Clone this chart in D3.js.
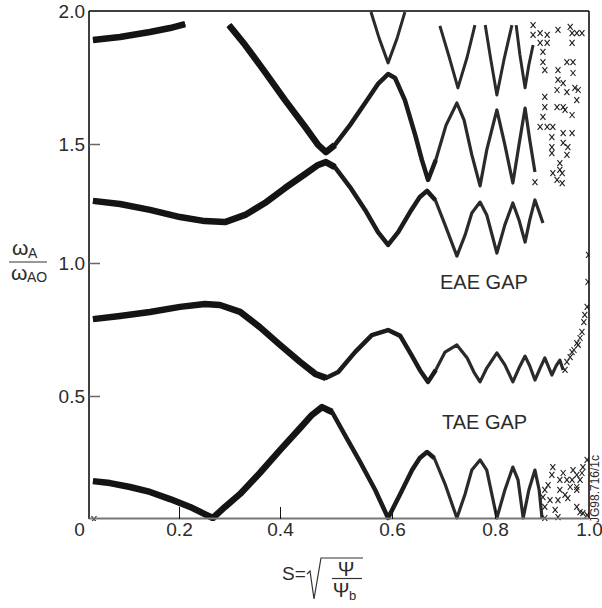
<!DOCTYPE html>
<html>
<head>
<meta charset="utf-8">
<script src="https://cdn.jsdelivr.net/npm/d3@7"></script>
<style>
  html, body { margin: 0; padding: 0; background: #fff; }
  svg { display: block; }
  text { font-family: "Liberation Sans", Arial, sans-serif; fill: #2b2b2b; }
</style>
</head>
<body>
<svg id="chart" width="602" height="608"></svg>
<script>
// ---------- data ----------
const sTicks = [0, 0.2, 0.4, 0.6, 0.8, 1.0];
const sTickLabels = ["0", "0.2", "0.4", "0.6", "0.8", "1.0"];
const wTicks = [0, 0.5, 1.0, 1.5, 2.0];
const wTickLabels = ["", "0.5", "1.0", "1.5", "2.0"];

// continuum branches [S, omega/omegaA0]
const branchTopLeft = [[0.028,1.891],[0.082,1.902],[0.142,1.921],[0.182,1.936],[0.212,1.951]];

const branchUpper = [[0.299,1.947],[0.331,1.872],[0.370,1.771],[0.409,1.665],[0.445,1.564],[0.468,1.496],
  [0.482,1.466],[0.498,1.496],[0.525,1.571],[0.552,1.654],[0.575,1.726],[0.593,1.763],[0.606,1.748],
  [0.625,1.665],[0.645,1.534],[0.658,1.433],[0.670,1.349],[0.685,1.433],[0.705,1.571],[0.726,1.654],
  [0.740,1.590],[0.755,1.454],[0.771,1.324],[0.784,1.475],[0.804,1.628],[0.821,1.496],[0.838,1.336],
  [0.851,1.496],[0.864,1.635],[0.874,1.515],[0.885,1.382]];

const branchEAE = [[0.028,1.261],[0.082,1.248],[0.142,1.223],[0.202,1.193],[0.251,1.176],[0.291,1.172],
  [0.331,1.202],[0.370,1.252],[0.409,1.315],[0.445,1.374],[0.468,1.412],[0.482,1.424],[0.498,1.403],
  [0.525,1.319],[0.552,1.223],[0.575,1.130],[0.593,1.076],[0.612,1.130],[0.635,1.214],[0.654,1.277],
  [0.668,1.303],[0.684,1.265],[0.703,1.160],[0.726,1.029],[0.742,1.118],[0.755,1.210],[0.771,1.256],
  [0.784,1.202],[0.804,1.042],[0.821,1.160],[0.838,1.252],[0.851,1.181],[0.864,1.088],[0.874,1.181],
  [0.885,1.265],[0.894,1.214],[0.902,1.168]];

const branchMid = [[0.028,0.789],[0.082,0.801],[0.142,0.816],[0.202,0.835],[0.251,0.846],[0.281,0.842],
  [0.321,0.816],[0.360,0.759],[0.400,0.692],[0.436,0.628],[0.463,0.583],[0.482,0.568],[0.504,0.590],
  [0.534,0.665],[0.564,0.729],[0.593,0.748],[0.616,0.726],[0.639,0.650],[0.654,0.598],[0.670,0.553],
  [0.685,0.598],[0.703,0.665],[0.726,0.692],[0.746,0.643],[0.759,0.590],[0.771,0.553],[0.784,0.605],
  [0.804,0.662],[0.821,0.617],[0.838,0.553],[0.851,0.605],[0.864,0.650],[0.874,0.613],[0.885,0.560],
  [0.896,0.605],[0.906,0.643],[0.913,0.613],[0.921,0.579],[0.930,0.613],[0.938,0.635],[0.945,0.598]];

const branchLow = [[0.028,0.154],[0.062,0.146],[0.102,0.130],[0.142,0.110],[0.182,0.081],[0.222,0.049],
  [0.251,0.020],[0.267,0.004],[0.291,0.049],[0.321,0.102],[0.360,0.187],[0.400,0.280],[0.436,0.370],
  [0.457,0.423],[0.475,0.455],[0.493,0.435],[0.516,0.341],[0.543,0.232],[0.570,0.118],[0.593,0.004],
  [0.616,0.102],[0.639,0.199],[0.654,0.248],[0.668,0.272],[0.682,0.248],[0.703,0.142],[0.726,0.004],
  [0.742,0.102],[0.755,0.199],[0.771,0.240],[0.784,0.199],[0.804,0.004],[0.821,0.118],[0.838,0.211],
  [0.849,0.159],[0.860,0.004],[0.872,0.118],[0.885,0.199],[0.894,0.118],[0.900,0.004]];

const vee1 = [[0.5625,1.996],[0.577,1.898],[0.593,1.805],[0.610,1.898],[0.625,1.996]];
const vee2 = [[0.693,1.944],[0.711,1.827],[0.728,1.711],[0.746,1.827],[0.761,1.947]];
const vee3 = [[0.781,1.947],[0.792,1.816],[0.804,1.684],[0.819,1.816],[0.836,1.947]];
const vee4 = [[0.845,1.947],[0.853,1.835],[0.864,1.711],[0.872,1.797],[0.881,1.872]];

// scattered single points near the edge
const scatterTop = [[0.881,1.947],[0.881,1.910],[0.896,1.917],[0.911,1.910],[0.896,1.880],[0.911,1.880],
  [0.902,1.846],[0.902,1.808],[0.906,1.778],[0.934,1.929],[0.960,1.940],[0.964,1.917],[0.974,1.917],
  [0.985,1.917],[0.964,1.880],[0.953,1.808],[0.966,1.808],[0.934,1.778],[0.966,1.767],[0.934,1.741],
  [0.945,1.729],[0.970,1.711],[0.977,1.703],[0.974,1.665],[0.932,1.703],[0.953,1.695],[0.906,1.677],
  [0.906,1.639],[0.932,1.639],[0.945,1.639],[0.949,1.628],[0.964,1.609],[0.902,1.602],[0.911,1.564],
  [0.896,1.564],[0.923,1.564],[0.921,1.526],[0.945,1.541],[0.964,1.541],[0.945,1.504],[0.955,1.487],
  [0.953,1.454],[0.921,1.487],[0.921,1.462],[0.938,1.420],[0.938,1.391],[0.923,1.378],[0.943,1.378],
  [0.932,1.349],[0.943,1.336],[0.885,1.340]];
const scatterMid = [[0.949,0.598],[0.953,0.628],[0.960,0.646],[0.964,0.665],[0.968,0.673],[0.974,0.699],
  [0.977,0.692],[0.981,0.718],[0.985,0.741],[0.989,0.778],[0.991,0.805],[0.996,0.835],[0.998,0.929],
  [0.999,1.034]];
const scatterLow = [[0.996,0.240],[0.987,0.211],[0.985,0.187],[0.981,0.159],[0.974,0.179],[0.966,0.199],
  [0.964,0.159],[0.974,0.130],[0.953,0.159],[0.938,0.159],[0.945,0.187],[0.923,0.211],[0.921,0.179],
  [0.906,0.118],[0.938,0.118],[0.960,0.130],[0.974,0.118],[0.934,0.077],[0.955,0.085],[0.974,0.049],
  [0.981,0.028],[0.987,0.024],[0.996,0.016],[0.934,0.008],[0.906,0.004],[0.902,0.089],[0.906,0.049],
  [0.917,0.077],[0.913,0.138],[0.928,0.037],[0.949,0.098],[0.030,0.0]];

// ---------- drawing ----------
const svg = d3.select("#chart");
const L = 89, R = 589, T = 11, B = 519;

const x = d3.scaleLinear().domain(sTicks).range([79, 179, 280, 392, 495, 589]);
const y = d3.scaleLinear().domain(wTicks).range([519, 396, 263, 144, 11]);

svg.append("defs").append("clipPath").attr("id", "clip")
  .append("rect").attr("x", L).attr("y", T - 2).attr("width", R - L).attr("height", B - T + 4);

const plot = svg.append("g").attr("clip-path", "url(#clip)");
const line = d3.line().x(d => x(d[0])).y(d => y(d[1]));

const branches = [branchTopLeft, branchUpper, branchEAE, branchMid, branchLow];
branches.forEach(b => {
  plot.append("path").attr("d", line(b)).attr("fill", "none")
    .attr("stroke", "#2a2a2a").attr("stroke-width", 3.2).attr("stroke-linejoin", "round");
  const mid = b.filter(d => d[0] <= 0.69);
  if (mid.length > 1)
    plot.append("path").attr("d", line(mid)).attr("fill", "none")
      .attr("stroke", "#1c1c1c").attr("stroke-width", 4.5).attr("stroke-linejoin", "round");
  const left = b.filter(d => d[0] <= 0.5);
  if (left.length > 1)
    plot.append("path").attr("d", line(left)).attr("fill", "none")
      .attr("stroke", "#141414").attr("stroke-width", 6.5).attr("stroke-linejoin", "round");
});
[vee1, vee2, vee3, vee4].forEach(v => {
  plot.append("path").attr("d", line(v)).attr("fill", "none")
    .attr("stroke", "#2a2a2a").attr("stroke-width", 3).attr("stroke-linejoin", "round");
});

const cross = "M-2.5,-3L2.5,3M2.5,-3L-2.5,3";
[scatterTop, scatterMid, scatterLow].forEach(set => {
  plot.selectAll(null).data(set).enter().append("path")
    .attr("transform", d => `translate(${x(d[0])},${y(d[1])})`)
    .attr("d", cross).attr("stroke", "#222").attr("stroke-width", 1.1).attr("fill", "none");
});

// frame
svg.append("line").attr("x1", L).attr("x2", R).attr("y1", T).attr("y2", T).attr("stroke", "#000").attr("stroke-width", 1.5);
svg.append("line").attr("x1", R).attr("x2", R).attr("y1", T).attr("y2", B).attr("stroke", "#000").attr("stroke-width", 1.5);
svg.append("line").attr("x1", L).attr("x2", L).attr("y1", T).attr("y2", B).attr("stroke", "#000").attr("stroke-width", 1.5);
svg.append("line").attr("x1", L).attr("x2", R).attr("y1", B - 0.5).attr("y2", B - 0.5).attr("stroke", "#777").attr("stroke-width", 2);

// tick marks
const xTickAxis = d3.axisBottom(x).tickValues(sTicks.slice(1, 5)).tickSize(-12).tickFormat("");
const gxt = svg.append("g").attr("transform", `translate(0,${B})`).call(xTickAxis);
gxt.select(".domain").remove();
gxt.selectAll("line").attr("stroke", "#111").attr("stroke-width", 1);

const yTickAxis = d3.axisLeft(y).tickValues(wTicks.slice(1, 4)).tickSize(-11).tickFormat("");
const gyt = svg.append("g").attr("transform", `translate(${L},0)`).call(yTickAxis);
gyt.select(".domain").remove();
gyt.selectAll("line").attr("stroke", "#666").attr("stroke-width", 1.5);

// tick labels
const xLab = d3.axisBottom(x).tickValues(sTicks).tickSize(0).tickPadding(4)
  .tickFormat((d, i) => sTickLabels[i]);
const gxl = svg.append("g").attr("transform", `translate(0,${B})`).call(xLab);
gxl.select(".domain").remove();
gxl.selectAll("text").attr("font-size", 19).attr("font-family", "Liberation Sans, Arial, sans-serif").attr("fill", "#2b2b2b");

const yLab = d3.axisLeft(y).tickValues(wTicks.slice(1)).tickSize(0).tickPadding(4)
  .tickFormat((d, i) => wTickLabels[i + 1]);
const gyl = svg.append("g").attr("transform", `translate(${L},0)`).call(yLab);
gyl.select(".domain").remove();
gyl.selectAll("text").attr("font-size", 19).attr("font-family", "Liberation Sans, Arial, sans-serif").attr("fill", "#2b2b2b");

// annotations
svg.append("text").attr("x", 440).attr("y", 289).attr("font-size", 20).text("EAE GAP");
svg.append("text").attr("x", 442).attr("y", 429).attr("font-size", 20).text("TAE GAP");
svg.append("text").attr("transform", "translate(599,489) rotate(-90)").attr("text-anchor", "middle")
  .attr("font-size", 12).attr("fill", "#555").text("JG98.716/1c");

// y title: omega_A / omega_AO
const yt = svg.append("g");
yt.append("text").attr("x", 12).attr("y", 255).attr("font-size", 21).text("ω");
yt.append("text").attr("x", 28).attr("y", 258).attr("font-size", 14).text("A");
yt.append("line").attr("x1", 9).attr("x2", 47).attr("y1", 262).attr("y2", 262).attr("stroke", "#333").attr("stroke-width", 1.2);
yt.append("text").attr("x", 11).attr("y", 280).attr("font-size", 21).text("ω");
yt.append("text").attr("x", 27).attr("y", 282).attr("font-size", 14).text("AO");

// x title: S = sqrt(Psi / Psi_b)
const xt = svg.append("g");
xt.append("text").attr("x", 282).attr("y", 580).attr("font-size", 19).text("S=");
xt.append("path").attr("d", "M307,574L310,571L314,599L321,558L363,558")
  .attr("fill", "none").attr("stroke", "#333").attr("stroke-width", 1.2);
xt.append("text").attr("x", 346).attr("y", 576).attr("text-anchor", "middle")
  .attr("font-family", "Liberation Serif, serif").attr("font-size", 20).text("Ψ");
xt.append("line").attr("x1", 332).attr("x2", 362).attr("y1", 578.5).attr("y2", 578.5).attr("stroke", "#333").attr("stroke-width", 1.2);
xt.append("text").attr("x", 341).attr("y", 597).attr("text-anchor", "middle")
  .attr("font-family", "Liberation Serif, serif").attr("font-size", 20).text("Ψ");
xt.append("text").attr("x", 349).attr("y", 600).attr("font-size", 13).text("b");
</script>
</body>
</html>
